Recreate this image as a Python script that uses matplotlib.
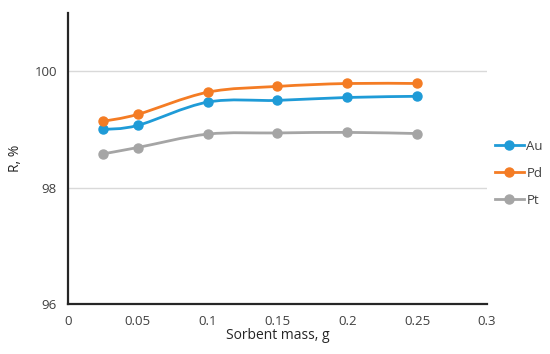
import matplotlib.pyplot as plt
from matplotlib.path import Path
from matplotlib.patches import PathPatch

plt.rcParams['font.family'] = ['Open Sans', 'DejaVu Sans']

mass = [0.025, 0.05, 0.1, 0.15, 0.2, 0.25]
au = [99.00, 99.07, 99.47, 99.50, 99.55, 99.57]
pd_ = [99.14, 99.26, 99.64, 99.74, 99.79, 99.79]
pt = [98.58, 98.69, 98.92, 98.94, 98.95, 98.93]

series = [('Au', au, '#1f9bd7'), ('Pd', pd_, '#f47c24'), ('Pt', pt, '#a5a5a5')]


def smooth_path(x, y):
    # Catmull-Rom style bezier, like Excel's smoothed lines
    n = len(x)
    verts = [(x[0], y[0])]
    codes = [Path.MOVETO]
    for i in range(n - 1):
        x0, y0 = (x[i - 1], y[i - 1]) if i > 0 else (x[i], y[i])
        x3, y3 = (x[i + 2], y[i + 2]) if i + 2 < n else (x[i + 1], y[i + 1])
        c1 = (x[i] + (x[i + 1] - x0) / 6, y[i] + (y[i + 1] - y0) / 6)
        c2 = (x[i + 1] - (x3 - x[i]) / 6, y[i + 1] - (y3 - y[i]) / 6)
        verts += [c1, c2, (x[i + 1], y[i + 1])]
        codes += [Path.CURVE4] * 3
    return Path(verts, codes)


fig = plt.figure(figsize=(5.5, 3.54), dpi=100)
ax = fig.add_axes([0.1236, 0.1412, 0.7618, 0.8218])

for name, vals, col in series:
    ax.add_patch(PathPatch(smooth_path(mass, vals), facecolor='none',
                           edgecolor=col, lw=2, zorder=3))
    ax.plot(mass, vals, linestyle='none', marker='o', ms=6.5, color=col, zorder=4)
    ax.plot([], [], color=col, lw=2, marker='o', ms=6.5, label=name)

ax.set_xlim(0, 0.3)
ax.set_ylim(96, 101)
ax.set_xticks([0, 0.05, 0.1, 0.15, 0.2, 0.25, 0.3])
ax.set_xticklabels(['0', '0.05', '0.1', '0.15', '0.2', '0.25', '0.3'])
ax.set_yticks([96, 98, 100])
ax.grid(axis='y', color='#d9d9d9', lw=1)
ax.set_axisbelow(True)
ax.tick_params(length=0, labelsize=9.5, colors='#404040', pad=8)
for s in ['top', 'right']:
    ax.spines[s].set_visible(False)
for s in ['left', 'bottom']:
    ax.spines[s].set_color('#262626')
    ax.spines[s].set_linewidth(1.6)

ax.set_xlabel('Sorbent mass, g', fontsize=10, color='#262626', labelpad=0)
ax.set_ylabel('R, %', fontsize=10, color='#262626', labelpad=8)

fig.legend(loc='center left', bbox_to_anchor=(0.878, 0.51), frameon=False,
           fontsize=9.5, handlelength=2.2, handletextpad=0.2, labelspacing=1.05,
           labelcolor='#404040')

fig.savefig('out.png', dpi=100)
